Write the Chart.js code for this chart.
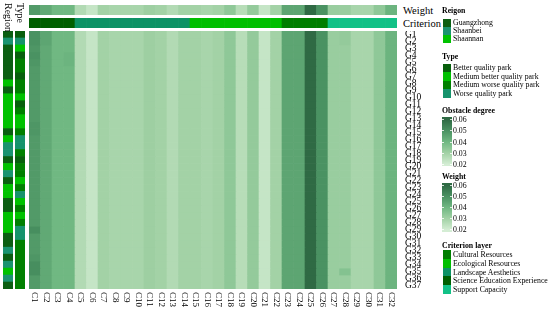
<!DOCTYPE html>
<html>
<head>
<meta charset="utf-8">
<script src="https://cdn.jsdelivr.net/npm/chart.js@4.4.1/dist/chart.umd.min.js"></script>
<style>
  html, body { margin: 0; padding: 0; width: 550px; height: 309px; overflow: hidden; background: #fff; }
  body { font-family: "Liberation Serif", "Times New Roman", serif; color: #000; position: relative; }
  canvas { position: absolute; display: block; }
  .lbl { position: absolute; font-size: 10.5px; line-height: 11px; white-space: nowrap; }
  .vlbl { position: absolute; writing-mode: vertical-rl; font-size: 10px; line-height: 10px; white-space: nowrap; }
  .lg { position: absolute; font-size: 7.8px; line-height: 9px; white-space: nowrap; }
  .lg-title { font-weight: bold; font-size: 7.8px; }
  .sw { position: absolute; width: 8px; }
  .bar { position: absolute; width: 10px; }
  .bar-tick { position: absolute; width: 2px; height: 1px; background: rgba(255,255,255,0.8); }
</style>
</head>
<body>
<canvas id="heat" width="414" height="280" style="left:29px;top:31px"></canvas>
<canvas id="weightRow" width="368" height="10" style="left:29px;top:5px"></canvas>
<canvas id="critRow" width="368" height="10" style="left:29px;top:18px"></canvas>
<canvas id="regionCol" width="10" height="258" style="left:3px;top:31px"></canvas>
<canvas id="typeCol" width="10" height="258" style="left:15px;top:31px"></canvas>

<div class="lbl" style="left:403px;top:5px">Weight</div>
<div class="lbl" style="left:403px;top:18px">Criterion</div>
<div class="vlbl" style="left:3px;top:3px">Region</div>
<div class="vlbl" style="left:15px;top:3px">Type</div>

<div id="legends"></div>

<script>
// ---- data ----
const colLabels = ['C1','C2','C3','C4','C5','C6','C7','C8','C9','C10','C11','C12','C13','C14','C15','C16',
                   'C17','C18','C19','C20','C21','C22','C23','C24','C25','C26','C27','C28','C29','C30','C31','C32'];
const rowLabels = ['G1','G2','G3','G4','G5','G6','G7','G8','G9','G10','G11','G12','G13','G14','G15','G16','G17','G18','G19',
                   'G20','G21','G22','G23','G24','G25','G26','G27','G28','G29','G30','G31','G32','G33','G34','G35','G36','G37'];

// criterion weight of each indicator (thousandths)
const weights = [48,44,40,40,27,23,30,29,29,29,31,30,27,30,30,29,30,34,26,33,23,30,45,45,60,50,32,32,29,29,34,41];

// criterion layer of each indicator
const criterion = ['SE','SE','SE','SE','LA','LA','LA','LA','LA','LA','LA','LA','LA','LA',
                   'ER','ER','ER','ER','ER','ER','ER','ER','CR','CR','CR','CR','SC','SC','SC','SC','SC','SC'];

// region and park type of each park G1..G37
const region = ['GZ','SB','GZ','GZ','GZ','GZ','GZ','SN','GZ','SN','SN','SN','SN','SN','GZ','SN','SB','SB','GZ',
                'SN','SB','GZ','SN','SN','GZ','GZ','SN','SN','SN','GZ','GZ','SB','GZ','SB','SN','SB','GZ'];
const parkType = ['B','W','MB','B','MW','MW','B','MW','MW','MB','B','MW','MB','MB','MW','W','W','MW','B',
                  'MW','MW','MB','MW','W','MB','MW','MB','MW','W','W','MW','MW','MW','MW','MW','MW','MW'];

// obstacle degree of each indicator for each park (thousandths), rows G1..G37, columns C1..C32
const obstacle = [
  [50,45,40,40,27,23,30,29,29,29,31,30,27,30,30,29,30,34,26,33,23,30,45,45,60,50,32,33,29,29,34,41],
  [50,45,40,40,27,23,30,29,29,29,31,30,27,30,30,29,30,34,26,33,23,30,45,45,60,50,32,33,29,29,34,41],
  [49,44,40,40,27,23,30,29,29,29,31,30,27,30,30,29,30,34,26,33,23,30,45,45,60,50,32,32,29,29,34,41],
  [50,44,40,41,27,23,30,29,29,29,31,30,27,30,30,29,30,34,26,33,23,30,45,45,60,50,32,32,29,29,34,41],
  [49,44,40,41,27,23,30,29,29,29,31,30,27,30,30,29,30,34,26,33,23,30,45,45,60,50,32,32,29,29,34,41],
  [48,44,40,40,27,23,30,29,29,29,31,30,27,30,30,29,30,34,26,33,23,30,45,45,60,50,32,32,29,29,34,41],
  [48,44,40,40,27,23,30,29,29,29,31,30,27,30,30,29,30,34,26,33,23,30,45,45,60,50,32,32,29,29,34,41],
  [48,44,40,40,27,23,30,29,29,29,31,30,27,30,30,29,30,34,26,33,23,30,45,45,60,50,32,32,29,29,34,41],
  [48,44,40,40,27,23,30,29,29,29,31,30,27,30,30,29,30,34,26,33,23,30,45,45,60,50,32,32,29,29,34,41],
  [48,44,40,40,27,23,30,29,29,29,31,30,27,30,30,29,30,34,26,33,23,30,45,45,60,50,32,32,29,29,34,41],
  [48,44,40,40,27,23,30,29,29,29,31,30,27,30,30,29,30,34,26,33,23,30,45,45,60,50,32,32,29,29,34,41],
  [48,44,40,40,27,23,30,29,29,29,31,30,27,30,30,29,30,34,26,33,23,30,45,45,60,50,32,32,29,29,34,41],
  [48,44,40,40,27,23,30,29,29,29,31,30,27,30,30,29,30,34,26,33,23,30,45,45,60,50,32,32,29,29,34,41],
  [49,44,40,40,27,23,30,29,29,29,31,30,27,30,30,29,30,34,26,33,23,30,45,45,60,50,32,32,29,29,34,41],
  [49,44,40,40,27,23,30,29,29,29,31,30,27,30,30,29,30,34,26,33,23,30,45,45,60,50,32,32,29,29,34,41],
  [48,44,40,40,27,23,30,29,29,29,31,30,27,30,30,29,30,34,26,33,23,30,45,45,60,50,32,32,29,29,34,41],
  [48,44,40,40,27,23,30,29,29,29,31,30,27,30,30,29,30,34,26,33,23,30,45,45,60,50,32,32,29,29,34,41],
  [48,44,40,40,27,23,30,29,29,29,31,30,27,30,30,29,30,34,26,33,23,30,45,45,60,50,32,32,29,29,34,41],
  [48,44,40,40,27,23,30,29,29,29,31,30,27,30,30,29,30,34,26,33,23,30,45,45,60,50,32,32,29,29,34,41],
  [48,44,40,40,27,23,30,29,29,29,31,30,27,30,30,29,30,34,26,33,23,30,45,45,60,50,32,32,29,29,34,41],
  [48,44,40,40,27,23,30,29,29,29,31,30,27,30,30,29,30,34,26,33,23,30,45,45,60,50,32,32,29,29,34,41],
  [48,44,40,40,27,23,30,29,29,29,31,30,27,30,30,29,30,34,26,33,23,30,45,45,60,50,32,32,29,29,34,41],
  [48,44,40,40,27,23,30,29,29,29,31,30,27,30,30,29,30,34,26,33,23,30,45,45,60,50,32,32,29,29,34,41],
  [48,44,40,40,27,23,30,29,29,29,31,30,27,30,30,29,30,34,26,33,23,30,45,45,60,50,32,32,29,29,34,41],
  [48,44,40,40,27,23,30,29,29,29,31,30,27,30,30,29,30,34,26,33,23,30,45,45,60,50,32,32,29,29,34,41],
  [48,44,40,40,27,23,30,29,29,29,31,30,27,30,30,29,30,34,26,33,23,30,45,45,60,50,32,32,29,29,34,41],
  [48,44,40,40,27,23,30,29,29,29,31,30,27,30,30,29,30,34,26,33,23,30,45,45,60,50,32,32,29,29,34,41],
  [48,44,40,40,27,23,30,29,29,29,31,30,27,30,30,29,30,34,26,33,23,30,45,45,60,50,32,32,29,29,34,41],
  [51,44,40,40,27,23,30,29,29,29,31,30,27,30,30,29,30,34,26,33,23,30,45,45,60,50,32,32,29,29,34,41],
  [48,44,40,40,27,23,30,29,29,29,31,30,27,30,30,29,30,34,26,33,23,30,45,45,60,50,32,32,29,29,34,41],
  [48,44,40,40,27,23,30,29,29,29,31,30,27,30,30,29,30,34,26,33,23,30,45,45,60,50,32,32,29,29,34,41],
  [48,44,40,40,27,23,30,29,29,29,31,30,27,30,30,29,30,34,26,33,23,30,45,45,60,50,32,32,29,29,34,41],
  [49,44,40,40,27,23,30,29,29,29,31,30,27,30,30,29,30,34,26,33,23,30,45,45,60,50,32,32,29,29,34,41],
  [51,44,40,40,27,23,30,29,29,29,31,30,27,30,30,29,30,34,26,33,23,30,45,45,60,50,32,32,29,29,34,41],
  [51,44,40,40,27,23,30,29,29,29,31,30,27,30,30,29,30,34,26,33,23,30,45,45,60,50,32,36,29,29,34,41],
  [48,44,40,40,27,23,30,29,29,29,31,30,27,30,30,29,30,34,26,33,23,30,45,45,60,50,32,32,29,29,34,41],
  [48,44,40,40,27,23,30,29,29,29,31,30,27,30,30,29,30,34,26,33,23,30,45,45,60,50,32,32,29,29,34,41]
];

const legendTicks = [0.06, 0.05, 0.04, 0.03, 0.02];

// ---- styles ----
const regionColors = { GZ: '#0b5e12', SB: '#1a9370', SN: '#00c200' };
const regionNames = { GZ: 'Guangzhong', SB: 'Shaanbei', SN: 'Shaannan' };
const typeColors = { B: '#075f0c', MB: '#00c200', MW: '#008000', W: '#16936c' };
const typeNames = { B: 'Better quality park', MB: 'Medium better quality park', MW: 'Medium worse quality park', W: 'Worse quality park' };
const critColors = { CR: '#007e00', ER: '#00bf00', LA: '#0d9265', SE: '#005f00', SC: '#12c186' };
const critNames = { CR: 'Cultural Resources', ER: 'Ecological Resources', LA: 'Landscape Aesthetics', SE: 'Science Education Experience', SC: 'Support Capacity' };

const rampStops = [
  [0.02, [212, 237, 212]],
  [0.03, [163, 210, 166]],
  [0.04, [112, 184, 130]],
  [0.05, [74, 146, 98]],
  [0.06, [47, 106, 68]]
];

function rampColor(v) {
  if (v <= rampStops[0][0]) return 'rgb(' + rampStops[0][1].join(',') + ')';
  for (let i = 1; i < rampStops.length; i++) {
    if (v <= rampStops[i][0]) {
      const [v0, c0] = rampStops[i - 1];
      const [v1, c1] = rampStops[i];
      const t = (v - v0) / (v1 - v0);
      return 'rgb(' + c0.map((c, k) => Math.round(c + (c1[k] - c) * t)).join(',') + ')';
    }
  }
  return 'rgb(' + rampStops[rampStops.length - 1][1].join(',') + ')';
}

const FONT = '"Liberation Serif", "Times New Roman", serif';

// ---- main heatmap ----
// x labels are drawn rotated clockwise (read top to bottom)
const xLabelPlugin = {
  id: 'xLabels',
  afterDraw(chart) {
    const { ctx, chartArea, scales } = chart;
    ctx.save();
    ctx.font = '9px ' + FONT;
    ctx.fillStyle = '#000';
    ctx.textAlign = 'left';
    ctx.textBaseline = 'middle';
    colLabels.forEach((c, i) => {
      ctx.save();
      ctx.translate(scales.x.getPixelForValue(i), chartArea.bottom + 3);
      ctx.rotate(Math.PI / 2);
      ctx.fillText(c, 0, 0);
      ctx.restore();
    });
    ctx.restore();
  }
};

new Chart(document.getElementById('heat'), {
  type: 'bar',
  data: {
    labels: colLabels,
    datasets: rowLabels.map((g, r) => ({
      label: g,
      data: colLabels.map(() => [r, r + 1]),
      backgroundColor: obstacle[r].map(v => rampColor(v / 1000)),
      borderWidth: 0,
      barPercentage: 1,
      categoryPercentage: 1,
      grouped: false
    }))
  },
  options: {
    responsive: false,
    animation: false,
    events: [],
    layout: { padding: { top: 0, left: 0, right: 0, bottom: 22 } },
    plugins: { legend: { display: false }, tooltip: { enabled: false } },
    scales: {
      x: { display: false },
      y: {
        type: 'linear',
        position: 'right',
        min: 0,
        max: rowLabels.length,
        reverse: true,
        grid: { display: false, drawTicks: false },
        border: { display: false },
        afterBuildTicks: scale => {
          scale.ticks = rowLabels.map((g, i) => ({ value: i + 0.5 }));
        },
        afterFit: scale => {
          scale.width = 46;
          scale.paddingTop = 0;
          scale.paddingBottom = 0;
        },
        ticks: {
          autoSkip: false,
          padding: 8,
          color: '#000',
          font: { family: FONT, size: 9.5 },
          callback: (v, i) => rowLabels[i]
        }
      }
    }
  },
  plugins: [xLabelPlugin]
});

// ---- annotation strips ----
function makeStrip(id, labels, colors, vertical) {
  const valueAxis = { display: false, min: 0, max: 1 };
  const catAxis = { display: false };
  new Chart(document.getElementById(id), {
    type: 'bar',
    data: {
      labels: labels,
      datasets: [{
        data: labels.map(() => [0, 1]),
        backgroundColor: colors,
        borderWidth: 0,
        barPercentage: 1,
        categoryPercentage: 1
      }]
    },
    options: {
      indexAxis: vertical ? 'y' : 'x',
      responsive: false,
      animation: false,
      events: [],
      layout: { padding: 0 },
      plugins: { legend: { display: false }, tooltip: { enabled: false } },
      scales: vertical ? { x: valueAxis, y: catAxis } : { x: catAxis, y: valueAxis }
    }
  });
}

makeStrip('weightRow', colLabels, weights.map(w => rampColor(w / 1000)), false);
makeStrip('critRow', colLabels, criterion.map(c => critColors[c]), false);
makeStrip('regionCol', rowLabels, region.map(c => regionColors[c]), true);
makeStrip('typeCol', rowLabels, parkType.map(c => typeColors[c]), true);

// ---- legends ----
const legendRoot = document.getElementById('legends');
const LX = 442;

function addText(x, yCenter, text, cls) {
  legendRoot.insertAdjacentHTML('beforeend',
    '<div class="lg ' + (cls || '') + '" style="left:' + x + 'px;top:' + (yCenter - 4.5) + 'px">' + text + '</div>');
}

function addDiscrete(titleY, itemTop, step, title, keys, colors, names) {
  addText(LX, titleY, title, 'lg-title');
  keys.forEach((k, i) => {
    const top = itemTop + i * step;
    legendRoot.insertAdjacentHTML('beforeend',
      '<div class="sw" style="left:' + (LX + 1) + 'px;top:' + top + 'px;height:' + step + 'px;background:' + colors[k] + '"></div>');
    addText(LX + 11, top + step / 2, names[k]);
  });
}

function addGradient(titleY, barTop, barBottom, tick0, tickStep, title) {
  addText(LX, titleY, title, 'lg-title');
  const hi = rampStops[rampStops.length - 1][0];
  const pxPerUnit = tickStep / 0.01;
  const stops = rampStops.map(s => {
    const y = tick0 + (hi - s[0]) * pxPerUnit;
    return 'rgb(' + s[1].join(',') + ') ' + ((y - barTop) / (barBottom - barTop) * 100).toFixed(1) + '%';
  }).reverse().join(',');
  legendRoot.insertAdjacentHTML('beforeend',
    '<div class="bar" style="left:' + LX + 'px;top:' + barTop + 'px;height:' + (barBottom - barTop) +
    'px;background:linear-gradient(to bottom,' + stops + ')"></div>');
  legendTicks.forEach((t, i) => {
    const y = tick0 + i * tickStep;
    legendRoot.insertAdjacentHTML('beforeend',
      '<div class="bar-tick" style="left:' + LX + 'px;top:' + y + 'px"></div>' +
      '<div class="bar-tick" style="left:' + (LX + 8) + 'px;top:' + y + 'px"></div>');
    addText(LX + 11, y + 0.5, t.toFixed(2));
  });
}

addDiscrete(10.5, 18.5, 8.1, 'Reigon', ['GZ', 'SB', 'SN'], regionColors, regionNames);
addDiscrete(56, 63.5, 8.5, 'Type', ['B', 'MB', 'MW', 'W'], typeColors, typeNames);
addGradient(110, 116.5, 165.5, 119, 11.25, 'Obstacle degree');
addGradient(176, 182.5, 231.5, 185, 11.1, 'Weight');
addDiscrete(245, 250, 8.8, 'Criterion layer', ['CR', 'ER', 'LA', 'SE', 'SC'], critColors, critNames);
</script>
</body>
</html>
